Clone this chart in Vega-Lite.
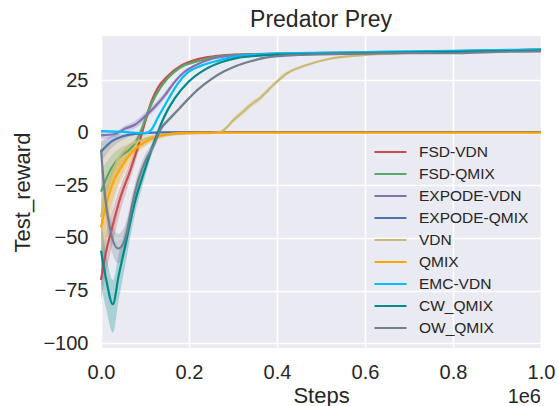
{
  "$schema": "https://vega.github.io/schema/vega-lite/v6.json",
  "width": 440,
  "height": 312,
  "autosize": "none",
  "padding": {"left": 101, "top": 36, "right": 18, "bottom": 58},
  "background": "white",
  "config": {
    "font": "Liberation Sans",
    "view": {"fill": "#EAEAF2", "stroke": null},
    "axis": {"grid": true, "gridColor": "white", "gridWidth": 1.6, "domain": false, "ticks": false, "labelColor": "#262626", "titleColor": "#262626", "labelFontSize": 20, "titleFontSize": 22, "titleFontWeight": "normal", "labelFont": "Liberation Sans", "titleFont": "Liberation Sans"}
  },
  "title": {"text": "Predator Prey", "fontSize": 23, "fontWeight": "normal", "color": "#262626", "font": "Liberation Sans", "offset": 4},
  "data": {"values": [
    {"m":"FSD-VDN","x":0,"y":-70,"lo":-80,"hi":-58},
    {"m":"FSD-VDN","x":0.012,"y":-56,"lo":-66,"hi":-46},
    {"m":"FSD-VDN","x":0.023,"y":-47,"lo":-56,"hi":-39},
    {"m":"FSD-VDN","x":0.043,"y":-31.5,"lo":-38,"hi":-26},
    {"m":"FSD-VDN","x":0.068,"y":-17,"lo":-21,"hi":-13},
    {"m":"FSD-VDN","x":0.085,"y":-6,"lo":-9,"hi":-3},
    {"m":"FSD-VDN","x":0.1,"y":5,"lo":3,"hi":7},
    {"m":"FSD-VDN","x":0.115,"y":15,"lo":13.5,"hi":16.5},
    {"m":"FSD-VDN","x":0.13,"y":21.6,"lo":20.5,"hi":22.7},
    {"m":"FSD-VDN","x":0.152,"y":27,"lo":26.2,"hi":27.8},
    {"m":"FSD-VDN","x":0.18,"y":31.6,"lo":31,"hi":32.2},
    {"m":"FSD-VDN","x":0.22,"y":35,"lo":34.6,"hi":35.4},
    {"m":"FSD-VDN","x":0.26,"y":36.4,"lo":36.1,"hi":36.7},
    {"m":"FSD-VDN","x":0.305,"y":37.2,"lo":37,"hi":37.4},
    {"m":"FSD-VDN","x":0.4,"y":37.6,"lo":37.4,"hi":37.8},
    {"m":"FSD-VDN","x":0.5,"y":37.9,"lo":37.7,"hi":38.1},
    {"m":"FSD-VDN","x":0.6,"y":38.1,"lo":37.9,"hi":38.3},
    {"m":"FSD-VDN","x":0.7,"y":38.4,"lo":38.2,"hi":38.6},
    {"m":"FSD-VDN","x":0.8,"y":38.8,"lo":38.6,"hi":39},
    {"m":"FSD-VDN","x":0.9,"y":39.1,"lo":38.9,"hi":39.3},
    {"m":"FSD-VDN","x":1.0,"y":39.6,"lo":39.4,"hi":39.8},

    {"m":"FSD-QMIX","x":0,"y":-28,"lo":-38,"hi":-18},
    {"m":"FSD-QMIX","x":0.023,"y":-17,"lo":-24,"hi":-11},
    {"m":"FSD-QMIX","x":0.045,"y":-11,"lo":-16,"hi":-7},
    {"m":"FSD-QMIX","x":0.065,"y":-8,"lo":-11,"hi":-5},
    {"m":"FSD-QMIX","x":0.08,"y":-4,"lo":-6,"hi":-2},
    {"m":"FSD-QMIX","x":0.091,"y":1,"lo":-1,"hi":3},
    {"m":"FSD-QMIX","x":0.107,"y":10,"lo":8.5,"hi":11.5},
    {"m":"FSD-QMIX","x":0.125,"y":18,"lo":17,"hi":19},
    {"m":"FSD-QMIX","x":0.152,"y":26,"lo":25.3,"hi":26.7},
    {"m":"FSD-QMIX","x":0.18,"y":31,"lo":30.5,"hi":31.5},
    {"m":"FSD-QMIX","x":0.22,"y":34,"lo":33.6,"hi":34.4},
    {"m":"FSD-QMIX","x":0.26,"y":36,"lo":35.7,"hi":36.3},
    {"m":"FSD-QMIX","x":0.305,"y":37,"lo":36.8,"hi":37.2},
    {"m":"FSD-QMIX","x":0.4,"y":37.4,"lo":37.2,"hi":37.6},
    {"m":"FSD-QMIX","x":0.5,"y":37.7,"lo":37.5,"hi":37.9},
    {"m":"FSD-QMIX","x":0.6,"y":37.9,"lo":37.7,"hi":38.1},
    {"m":"FSD-QMIX","x":0.7,"y":38.2,"lo":38,"hi":38.4},
    {"m":"FSD-QMIX","x":0.8,"y":38.6,"lo":38.4,"hi":38.8},
    {"m":"FSD-QMIX","x":0.9,"y":38.9,"lo":38.7,"hi":39.1},
    {"m":"FSD-QMIX","x":1.0,"y":39.3,"lo":39.1,"hi":39.5},

    {"m":"EXPODE-VDN","x":0,"y":-1.2,"lo":-3,"hi":0.5},
    {"m":"EXPODE-VDN","x":0.032,"y":-0.6,"lo":-2,"hi":0.8},
    {"m":"EXPODE-VDN","x":0.055,"y":2,"lo":0.5,"hi":3.5},
    {"m":"EXPODE-VDN","x":0.077,"y":3.8,"lo":2,"hi":5.5},
    {"m":"EXPODE-VDN","x":0.1,"y":7.8,"lo":6,"hi":9.6},
    {"m":"EXPODE-VDN","x":0.123,"y":12.5,"lo":10.8,"hi":14.2},
    {"m":"EXPODE-VDN","x":0.145,"y":17.8,"lo":16.3,"hi":19.3},
    {"m":"EXPODE-VDN","x":0.168,"y":24.3,"lo":23.2,"hi":25.4},
    {"m":"EXPODE-VDN","x":0.19,"y":29,"lo":28.2,"hi":29.8},
    {"m":"EXPODE-VDN","x":0.214,"y":32,"lo":31.5,"hi":32.5},
    {"m":"EXPODE-VDN","x":0.252,"y":35.2,"lo":34.9,"hi":35.5},
    {"m":"EXPODE-VDN","x":0.305,"y":36.8,"lo":36.6,"hi":37},
    {"m":"EXPODE-VDN","x":0.4,"y":37.3,"lo":37.1,"hi":37.5},
    {"m":"EXPODE-VDN","x":0.5,"y":37.7,"lo":37.5,"hi":37.9},
    {"m":"EXPODE-VDN","x":0.6,"y":37.9,"lo":37.7,"hi":38.1},
    {"m":"EXPODE-VDN","x":0.7,"y":38.2,"lo":38,"hi":38.4},
    {"m":"EXPODE-VDN","x":0.8,"y":38.6,"lo":38.4,"hi":38.8},
    {"m":"EXPODE-VDN","x":0.9,"y":38.9,"lo":38.7,"hi":39.1},
    {"m":"EXPODE-VDN","x":1.0,"y":39.2,"lo":39,"hi":39.4},

    {"m":"EXPODE-QMIX","x":0,"y":-9,"lo":-14,"hi":-4},
    {"m":"EXPODE-QMIX","x":0.025,"y":-4,"lo":-7,"hi":-1.5},
    {"m":"EXPODE-QMIX","x":0.048,"y":-1.8,"lo":-3.5,"hi":-0.5},
    {"m":"EXPODE-QMIX","x":0.077,"y":-0.5,"lo":-1.2,"hi":0.2},
    {"m":"EXPODE-QMIX","x":0.14,"y":0.2,"lo":-0.1,"hi":0.5},
    {"m":"EXPODE-QMIX","x":0.2,"y":0.3,"lo":0.1,"hi":0.5},
    {"m":"EXPODE-QMIX","x":0.6,"y":0.3,"lo":0.1,"hi":0.5},
    {"m":"EXPODE-QMIX","x":1.0,"y":0.3,"lo":0.1,"hi":0.5},

    {"m":"VDN","x":0,"y":-40,"lo":-68,"hi":-5},
    {"m":"VDN","x":0.015,"y":-26,"lo":-48,"hi":-4},
    {"m":"VDN","x":0.035,"y":-14,"lo":-28,"hi":-3},
    {"m":"VDN","x":0.06,"y":-7,"lo":-14,"hi":-1.5},
    {"m":"VDN","x":0.1,"y":-3,"lo":-6,"hi":-0.8},
    {"m":"VDN","x":0.15,"y":-1,"lo":-2,"hi":-0.2},
    {"m":"VDN","x":0.2,"y":-0.3,"lo":-0.6,"hi":0},
    {"m":"VDN","x":0.255,"y":0,"lo":-0.2,"hi":0.2},
    {"m":"VDN","x":0.272,"y":0.4,"lo":0.1,"hi":0.8},
    {"m":"VDN","x":0.285,"y":2.4,"lo":1.5,"hi":3.3},
    {"m":"VDN","x":0.3,"y":5.8,"lo":4.6,"hi":7},
    {"m":"VDN","x":0.323,"y":10,"lo":8.5,"hi":11.5},
    {"m":"VDN","x":0.339,"y":13,"lo":11.5,"hi":14.5},
    {"m":"VDN","x":0.361,"y":16.4,"lo":15,"hi":17.8},
    {"m":"VDN","x":0.391,"y":22.6,"lo":21.5,"hi":23.7},
    {"m":"VDN","x":0.423,"y":28.3,"lo":27.4,"hi":29.2},
    {"m":"VDN","x":0.468,"y":32.2,"lo":31.6,"hi":32.8},
    {"m":"VDN","x":0.52,"y":35.2,"lo":34.8,"hi":35.6},
    {"m":"VDN","x":0.595,"y":36.9,"lo":36.6,"hi":37.2},
    {"m":"VDN","x":0.68,"y":37.8,"lo":37.6,"hi":38},
    {"m":"VDN","x":0.8,"y":38.4,"lo":38.2,"hi":38.6},
    {"m":"VDN","x":0.9,"y":38.8,"lo":38.6,"hi":39},
    {"m":"VDN","x":1.0,"y":39.2,"lo":39,"hi":39.4},

    {"m":"QMIX","x":0,"y":-45,"lo":-58,"hi":-32},
    {"m":"QMIX","x":0.009,"y":-36.6,"lo":-48,"hi":-26},
    {"m":"QMIX","x":0.024,"y":-25.5,"lo":-34,"hi":-18},
    {"m":"QMIX","x":0.047,"y":-16,"lo":-22,"hi":-11},
    {"m":"QMIX","x":0.07,"y":-9.3,"lo":-13,"hi":-6},
    {"m":"QMIX","x":0.1,"y":-4.4,"lo":-6.5,"hi":-2.5},
    {"m":"QMIX","x":0.138,"y":-1.3,"lo":-2.2,"hi":-0.5},
    {"m":"QMIX","x":0.183,"y":0,"lo":-0.3,"hi":0.3},
    {"m":"QMIX","x":0.25,"y":0.1,"lo":-0.1,"hi":0.3},
    {"m":"QMIX","x":0.5,"y":0.1,"lo":-0.1,"hi":0.3},
    {"m":"QMIX","x":0.75,"y":0.1,"lo":-0.1,"hi":0.3},
    {"m":"QMIX","x":1.0,"y":0.1,"lo":-0.1,"hi":0.3},

    {"m":"EMC-VDN","x":0,"y":0.8,"lo":0.3,"hi":1.3},
    {"m":"EMC-VDN","x":0.05,"y":0.4,"lo":-0.1,"hi":0.9},
    {"m":"EMC-VDN","x":0.1,"y":-0.2,"lo":-0.7,"hi":0.3},
    {"m":"EMC-VDN","x":0.115,"y":1.6,"lo":0.8,"hi":2.4},
    {"m":"EMC-VDN","x":0.13,"y":7.5,"lo":6.5,"hi":8.5},
    {"m":"EMC-VDN","x":0.145,"y":13,"lo":12,"hi":14},
    {"m":"EMC-VDN","x":0.16,"y":18.5,"lo":17.6,"hi":19.4},
    {"m":"EMC-VDN","x":0.175,"y":23.5,"lo":22.8,"hi":24.2},
    {"m":"EMC-VDN","x":0.198,"y":28.8,"lo":28.3,"hi":29.3},
    {"m":"EMC-VDN","x":0.227,"y":31.8,"lo":31.4,"hi":32.2},
    {"m":"EMC-VDN","x":0.266,"y":34.3,"lo":34,"hi":34.6},
    {"m":"EMC-VDN","x":0.311,"y":36.4,"lo":36.2,"hi":36.6},
    {"m":"EMC-VDN","x":0.4,"y":37.7,"lo":37.5,"hi":37.9},
    {"m":"EMC-VDN","x":0.5,"y":38.1,"lo":37.9,"hi":38.3},
    {"m":"EMC-VDN","x":0.6,"y":38.4,"lo":38.2,"hi":38.6},
    {"m":"EMC-VDN","x":0.7,"y":38.7,"lo":38.5,"hi":38.9},
    {"m":"EMC-VDN","x":0.8,"y":39,"lo":38.8,"hi":39.2},
    {"m":"EMC-VDN","x":0.9,"y":39.3,"lo":39.1,"hi":39.5},
    {"m":"EMC-VDN","x":1.0,"y":39.6,"lo":39.4,"hi":39.8},

    {"m":"CW_QMIX","x":0,"y":-56,"lo":-72,"hi":-40},
    {"m":"CW_QMIX","x":0.012,"y":-70,"lo":-84,"hi":-58},
    {"m":"CW_QMIX","x":0.027,"y":-81.5,"lo":-95,"hi":-70},
    {"m":"CW_QMIX","x":0.04,"y":-68,"lo":-80,"hi":-58},
    {"m":"CW_QMIX","x":0.055,"y":-53.7,"lo":-63,"hi":-46},
    {"m":"CW_QMIX","x":0.077,"y":-33,"lo":-39,"hi":-28},
    {"m":"CW_QMIX","x":0.1,"y":-17.3,"lo":-21,"hi":-14},
    {"m":"CW_QMIX","x":0.118,"y":-6,"lo":-8.5,"hi":-3.5},
    {"m":"CW_QMIX","x":0.13,"y":0.6,"lo":-1.2,"hi":2.4},
    {"m":"CW_QMIX","x":0.139,"y":5.4,"lo":4,"hi":6.8},
    {"m":"CW_QMIX","x":0.152,"y":11,"lo":10,"hi":12},
    {"m":"CW_QMIX","x":0.168,"y":16.5,"lo":15.7,"hi":17.3},
    {"m":"CW_QMIX","x":0.198,"y":24,"lo":23.4,"hi":24.6},
    {"m":"CW_QMIX","x":0.236,"y":30,"lo":29.6,"hi":30.4},
    {"m":"CW_QMIX","x":0.273,"y":33.5,"lo":33.2,"hi":33.8},
    {"m":"CW_QMIX","x":0.311,"y":35.6,"lo":35.4,"hi":35.8},
    {"m":"CW_QMIX","x":0.35,"y":36.5,"lo":36.3,"hi":36.7},
    {"m":"CW_QMIX","x":0.4,"y":37.1,"lo":36.9,"hi":37.3},
    {"m":"CW_QMIX","x":0.5,"y":37.5,"lo":37.3,"hi":37.7},
    {"m":"CW_QMIX","x":0.6,"y":37.9,"lo":37.7,"hi":38.1},
    {"m":"CW_QMIX","x":0.7,"y":38.2,"lo":38,"hi":38.4},
    {"m":"CW_QMIX","x":0.8,"y":38.5,"lo":38.3,"hi":38.7},
    {"m":"CW_QMIX","x":0.9,"y":38.8,"lo":38.6,"hi":39},
    {"m":"CW_QMIX","x":1.0,"y":39.1,"lo":38.9,"hi":39.3},

    {"m":"OW_QMIX","x":0,"y":-8,"lo":-13,"hi":-3},
    {"m":"OW_QMIX","x":0.009,"y":-30,"lo":-36,"hi":-24},
    {"m":"OW_QMIX","x":0.02,"y":-45,"lo":-52,"hi":-39},
    {"m":"OW_QMIX","x":0.039,"y":-55,"lo":-62,"hi":-48},
    {"m":"OW_QMIX","x":0.05,"y":-53,"lo":-60,"hi":-46},
    {"m":"OW_QMIX","x":0.059,"y":-47,"lo":-54,"hi":-41},
    {"m":"OW_QMIX","x":0.07,"y":-35,"lo":-41,"hi":-30},
    {"m":"OW_QMIX","x":0.084,"y":-23,"lo":-27,"hi":-19},
    {"m":"OW_QMIX","x":0.1,"y":-13.7,"lo":-17,"hi":-10.5},
    {"m":"OW_QMIX","x":0.12,"y":-6,"lo":-8,"hi":-4},
    {"m":"OW_QMIX","x":0.137,"y":2.2,"lo":1,"hi":3.4},
    {"m":"OW_QMIX","x":0.152,"y":5.8,"lo":4.8,"hi":6.8},
    {"m":"OW_QMIX","x":0.175,"y":10.8,"lo":10,"hi":11.6},
    {"m":"OW_QMIX","x":0.198,"y":16,"lo":15.3,"hi":16.7},
    {"m":"OW_QMIX","x":0.22,"y":20.5,"lo":19.9,"hi":21.1},
    {"m":"OW_QMIX","x":0.25,"y":25.4,"lo":24.9,"hi":25.9},
    {"m":"OW_QMIX","x":0.28,"y":29.2,"lo":28.8,"hi":29.6},
    {"m":"OW_QMIX","x":0.31,"y":32,"lo":31.7,"hi":32.3},
    {"m":"OW_QMIX","x":0.34,"y":34,"lo":33.7,"hi":34.3},
    {"m":"OW_QMIX","x":0.377,"y":35.8,"lo":35.6,"hi":36},
    {"m":"OW_QMIX","x":0.45,"y":37,"lo":36.8,"hi":37.2},
    {"m":"OW_QMIX","x":0.5,"y":37.3,"lo":37.1,"hi":37.5},
    {"m":"OW_QMIX","x":0.6,"y":37.6,"lo":37.4,"hi":37.8},
    {"m":"OW_QMIX","x":0.7,"y":37.9,"lo":37.7,"hi":38.1},
    {"m":"OW_QMIX","x":0.8,"y":37.8,"lo":37.6,"hi":38},
    {"m":"OW_QMIX","x":0.85,"y":38.1,"lo":37.9,"hi":38.3},
    {"m":"OW_QMIX","x":0.9,"y":38.4,"lo":38.2,"hi":38.6},
    {"m":"OW_QMIX","x":1.0,"y":38.7,"lo":38.5,"hi":38.9}
  ]},
  "resolve": {"legend": {"color": "independent"}},
  "layer": [
    {
      "mark": {"type": "area", "opacity": 0.28, "interpolate": "monotone"},
      "encoding": {
        "x": {"field": "x", "type": "quantitative", "scale": {"domain": [0, 1], "nice": false, "zero": false}, "axis": {"values": [0, 0.2, 0.4, 0.6, 0.8, 1.0], "format": ".1f", "labelPadding": 14, "labelFlush": false, "title": "Steps", "titlePadding": 3}},
        "y": {"field": "lo", "type": "quantitative", "scale": {"domain": [-102.3, 46], "nice": false, "zero": false}, "axis": {"values": [-100, -75, -50, -25, 0, 25], "format": "d", "labelPadding": 13, "title": "Test_reward", "titlePadding": 8}},
        "y2": {"field": "hi"},
        "color": {"field": "m", "type": "nominal", "legend": null, "scale": {"domain": ["FSD-VDN", "FSD-QMIX", "EXPODE-VDN", "EXPODE-QMIX", "VDN", "QMIX", "EMC-VDN", "CW_QMIX", "OW_QMIX"], "range": ["#C44E52", "#55A868", "#8172B2", "#4C72B0", "#CCB974", "#FFA500", "#00BFFF", "#008B8B", "#708090"]}}
      }
    },
    {
      "mark": {"type": "line", "strokeWidth": 2.2, "interpolate": "monotone"},
      "encoding": {
        "x": {"field": "x", "type": "quantitative"},
        "y": {"field": "y", "type": "quantitative"},
        "color": {"field": "m", "type": "nominal", "sort": null,
          "legend": {"orient": "none", "legendX": 272, "legendY": 105, "title": null, "symbolType": "stroke", "symbolSize": 1024, "symbolStrokeWidth": 2.2, "clipHeight": 22, "labelFontSize": 15.5, "labelOffset": 11, "labelColor": "#262626", "labelFont": "Liberation Sans", "rowPadding": 0, "padding": 0}}
      }
    },
    {
      "data": {"values": [{}]},
      "mark": {"type": "text", "text": "1e6", "align": "right", "baseline": "alphabetic", "dy": 55, "fontSize": 20, "color": "#262626", "font": "Liberation Sans"},
      "encoding": {"x": {"datum": 1.0}, "y": {"datum": -102.3}}
    }
  ]
}
